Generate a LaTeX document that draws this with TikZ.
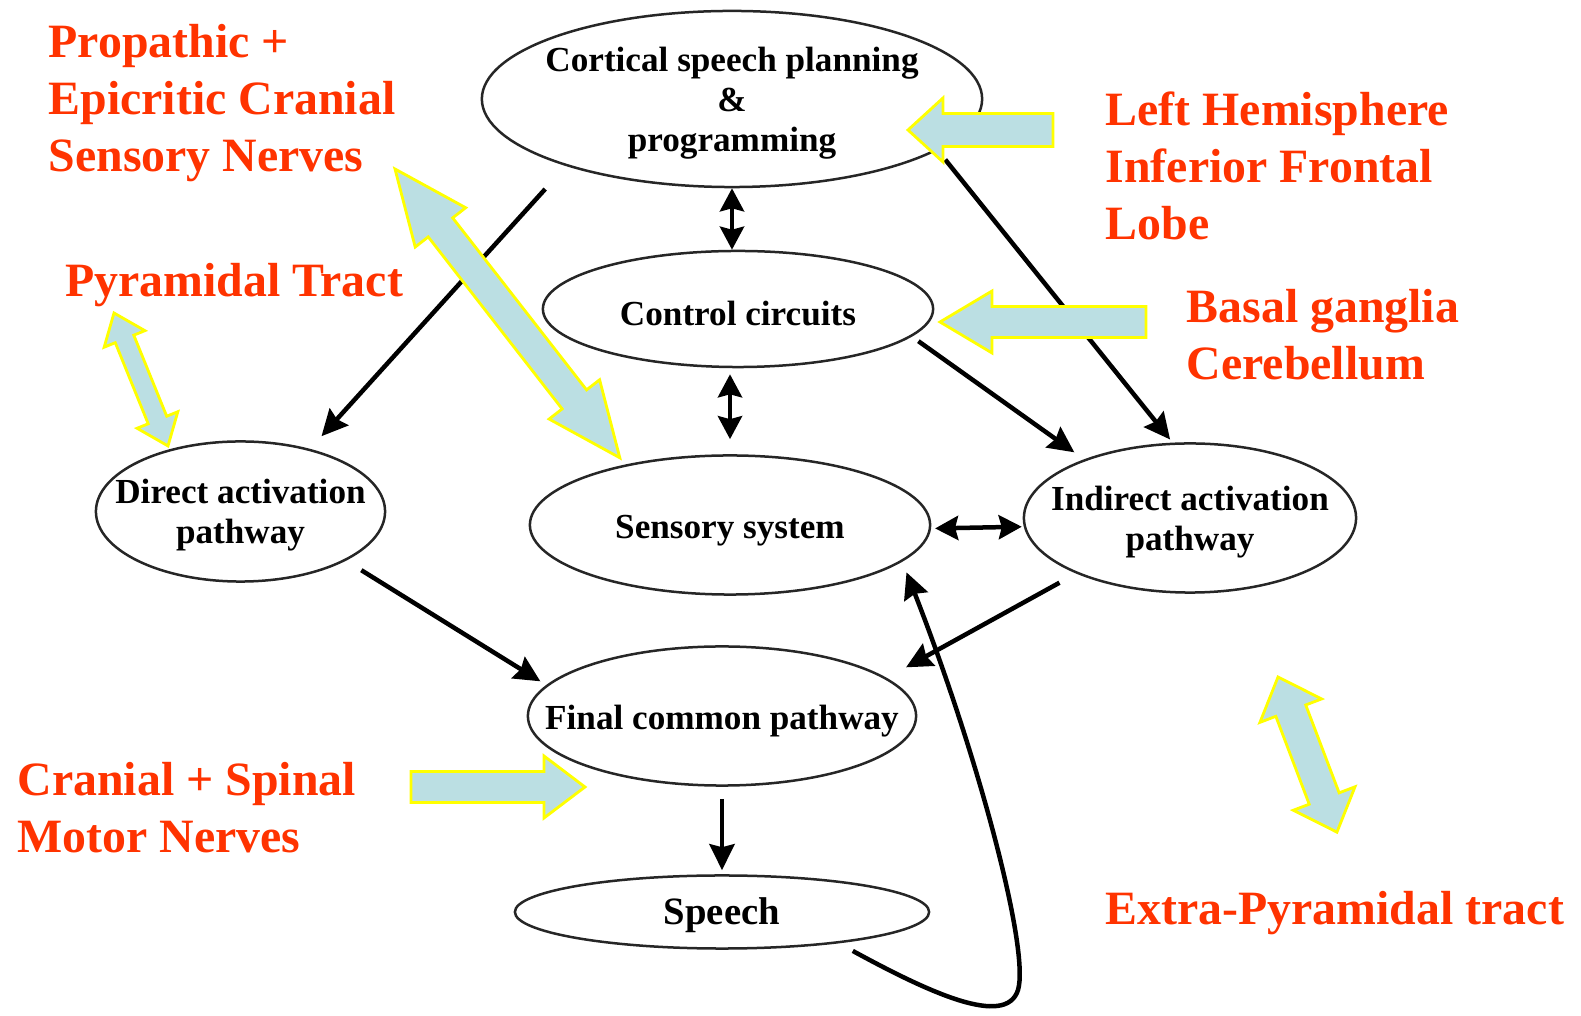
\documentclass[tikz,border=0pt]{standalone}
\usepackage{fontspec}
\setmainfont{Liberation Serif}
\usepackage{tikz}
\usetikzlibrary{shapes.geometric}
\usetikzlibrary{arrows.meta}
\usepackage{xcolor}

\definecolor{labelred}{RGB}{255,51,0}
\definecolor{fatblue}{RGB}{187,223,227}
\definecolor{fatyellow}{RGB}{255,255,0}

\tikzset{
  box/.style={ellipse, draw=black!85, line width=0.25mm, inner xsep=-5mm, inner ysep=0pt,
    align=center, font=\fontsize{10}{11.4}\selectfont\bfseries,
    execute at begin node={\rule{0pt}{9.6pt}}},
  twoline/.style={text depth=-1pt},
  link/.style={line width=0.45mm, -{Stealth[length=2.6mm, width=2.5mm, inset=0.3mm]}},
  dlink/.style={line width=0.45mm, {Stealth[length=2.3mm, width=2.4mm, inset=0.3mm]}-{Stealth[length=2.3mm, width=2.4mm, inset=0.3mm]}},
  fatarrow/.style={fill=fatblue, draw=fatyellow, line width=0.28mm},
  redlabel/.style={text=labelred, anchor=north west, inner sep=0pt, align=left,
    font=\fontsize{13.6}{16.2}\selectfont\bfseries},
}

% start, angle, length, head length, head half width, shaft half width
\newcommand{\fatdouble}[6]{%
  \draw[fatarrow, shift={#1}, rotate=#2] (0,0) -- (#4,#5) -- (#4,#6) -- ({#3-#4},#6)
    -- ({#3-#4},#5) -- (#3,0) -- ({#3-#4},-#5) -- ({#3-#4},-#6) -- (#4,-#6) -- (#4,-#5) -- cycle;}
\newcommand{\fatsingle}[6]{%
  \draw[fatarrow, shift={#1}, rotate=#2] (0,#6) -- ({#3-#4},#6) -- ({#3-#4},#5) -- (#3,0)
    -- ({#3-#4},-#5) -- ({#3-#4},-#6) -- (0,-#6) -- cycle;}

\begin{document}
\begin{tikzpicture}[x=0.01cm, y=-0.01cm]

\useasboundingbox (0,0) rectangle (1581,1016);

% boxes
\node[box, twoline, minimum width=50mm, minimum height=17.6mm] (cortical) at (732,99)
  {Cortical speech planning\\\&\\programming};
\node[box, minimum width=39mm, minimum height=11.6mm] (control) at (738,309) {Control circuits};
\node[box, minimum width=40mm, minimum height=13.9mm] (sensory) at (730,525) {Sensory system};
\node[box, twoline, minimum width=28.9mm, minimum height=14mm] (direct) at (240.5,511.5)
  {Direct activation\\pathway};
\node[box, twoline, minimum width=33.2mm, minimum height=14.9mm] (indirect) at (1190,518)
  {Indirect activation\\pathway};
\node[box, minimum width=38.8mm, minimum height=13.9mm] (final) at (722,716) {Final common pathway};
\node[box, minimum width=41.4mm, minimum height=7.3mm, font=\fontsize{11}{12}\selectfont\bfseries]
  (speech) at (722,912) {Speech};

% connectors
\draw[dlink] (cortical.south) -- (cortical.south |- control.north);
\draw[dlink, shorten <=0.6mm, shorten >=1.5mm] (sensory.north |- control.south) -- (sensory.north);
\draw[link, shorten <=3.1mm, shorten >=1.7mm] (cortical.202) -- (direct.42);
\draw[link, shorten <=1.2mm, shorten >=0.4mm] (cortical.346) -- (indirect.103);
\draw[link, shorten <=0.8mm, shorten >=1.2mm] (control.351) -- (indirect.151);
\draw[dlink, shorten <=0.4mm, shorten >=0.2mm] (sensory.359) -- (indirect.183);
\draw[link, shorten <=1.8mm, shorten >=0.7mm] (direct.335) -- (final.170);
\draw[link, shorten <=1.9mm, shorten >=2.2mm] (indirect.206) -- (final.13);
\draw[link, shorten <=1.2mm, shorten >=0.4mm] (final.south) -- (speech.north);
\draw[link, shorten <=1.6mm, shorten >=1.15mm] (speech.345) .. controls (930,993) and (1006,1028)
  .. (1018,990) .. controls (1030,950) and (978,755) .. (sensory.348);

% fat arrows
\fatdouble{(395,169)}{-52.1}{366}{74}{32}{15.5}
\fatdouble{(114,313)}{-67.9}{143.5}{28}{22}{10}
\fatdouble{(1278,677)}{-69.2}{166}{36}{33}{16}
\fatsingle{(1053,130)}{180}{145}{35}{32}{16.5}
\fatsingle{(1146,322)}{180}{206}{52}{31}{15.5}
\fatsingle{(411,787)}{0}{174}{41}{31}{15.5}

% labels
\node[redlabel] (propathic) at (48,24) {Propathic +\\Epicritic Cranial\\Sensory Nerves};
\node[redlabel] (pyramidal) at (64.5,263) {Pyramidal Tract};
\node[redlabel] (lefthemi) at (1105,91) {Left Hemisphere\\Inferior Frontal\\Lobe};
\node[redlabel] (basal) at (1186,289) {Basal ganglia\\Cerebellum};
\node[redlabel] (cranial) at (17,762) {Cranial + Spinal\\Motor Nerves};
\node[redlabel] (extra) at (1105,891) {Extra-Pyramidal tract};

\end{tikzpicture}
\end{document}
